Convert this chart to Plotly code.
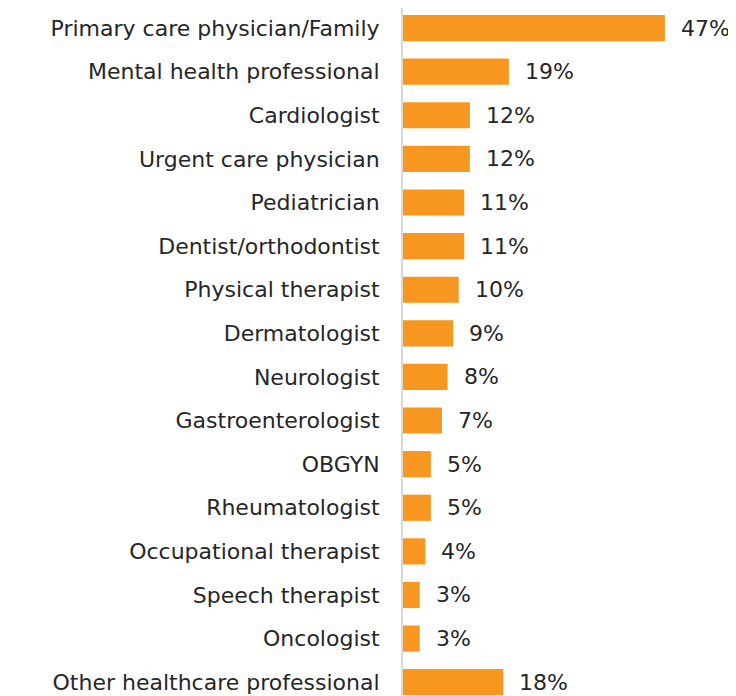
import plotly.graph_objects as go

# Share of respondents by type of healthcare professional
categories = [
    "Primary care physician/Family",
    "Mental health professional",
    "Cardiologist",
    "Urgent care physician",
    "Pediatrician",
    "Dentist/orthodontist",
    "Physical therapist",
    "Dermatologist",
    "Neurologist",
    "Gastroenterologist",
    "OBGYN",
    "Rheumatologist",
    "Occupational therapist",
    "Speech therapist",
    "Oncologist",
    "Other healthcare professional",
]
values = [47, 19, 12, 12, 11, 11, 10, 9, 8, 7, 5, 5, 4, 3, 3, 18]

bar_color = "#F7971F"
text_color = "#262626"
label_font = dict(family="DejaVu Sans, Open Sans, sans-serif", size=22, color=text_color)

fig = go.Figure(go.Bar(
    x=values,
    y=categories,
    orientation="h",
    marker=dict(color=bar_color, line=dict(width=0)),
    width=0.6,
))

# value labels to the right of each bar
for cat, val in zip(categories, values):
    fig.add_annotation(
        x=val, y=cat, text=f"{val}%",
        xanchor="left", yanchor="middle", xshift=14, showarrow=False,
        font=label_font,
    )

fig.update_layout(
    width=736, height=696,
    plot_bgcolor="white", paper_bgcolor="white",
    margin=dict(l=395, r=0, t=0, b=0),
    font=label_font,
    showlegend=False,
    xaxis=dict(range=[0, 61.2], visible=False),
    yaxis=dict(
        range=[15.5, -0.46],
        showline=True, linecolor="#D9D9D9", linewidth=2,
        showgrid=False, zeroline=False,
        ticks="", ticklabelstandoff=17,
        tickfont=label_font,
    ),
)

fig.write_html("out.html")
